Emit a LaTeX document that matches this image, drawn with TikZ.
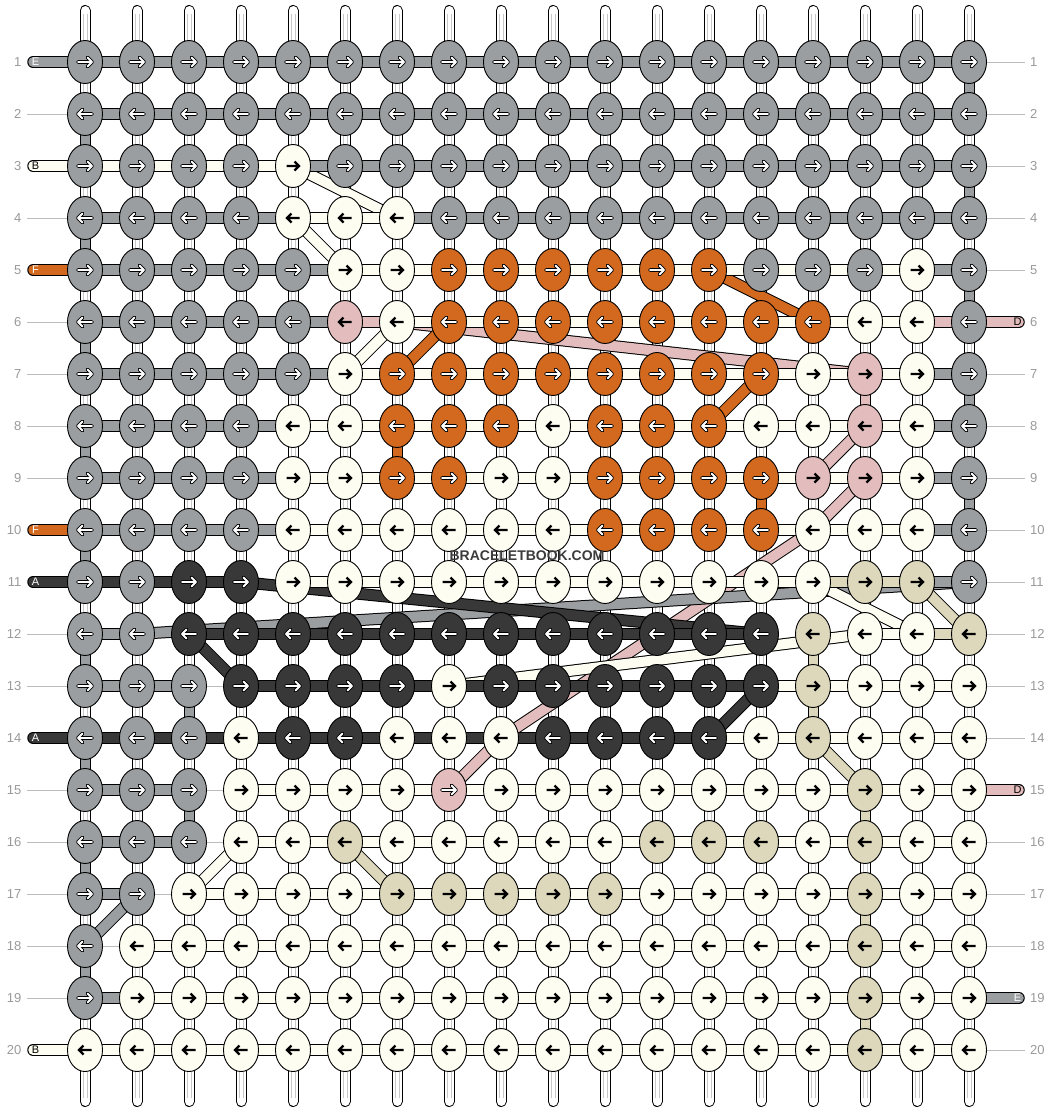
\documentclass[tikz,border=0pt]{standalone}
\usepackage{fontspec}
\setmainfont{Liberation Sans}
\usetikzlibrary{shapes.geometric,calc}
\definecolor{cg}{HTML}{9A9EA0}
\definecolor{cw}{HTML}{FDFDF2}
\definecolor{co}{HTML}{D2691E}
\definecolor{cp}{HTML}{E3BDBD}
\definecolor{cq}{HTML}{E3BDBD}
\definecolor{cd}{HTML}{383838}
\definecolor{cb}{HTML}{DDD8BC}
\definecolor{numgray}{HTML}{9A9A9A}
\definecolor{linegray}{HTML}{BBBBBB}
\definecolor{innergray}{HTML}{C8C8C8}
\definecolor{wmgray}{HTML}{3C3C3C}
\newcommand\myband[3]{%
  \draw[line width=12pt,black] (#2) -- (#3);
  \draw[line width=10pt,draw=#1] (#2) -- (#3);}
\begin{document}
\begin{tikzpicture}[x=1pt,y=-1pt,
  knot/.style={ellipse,draw=black,line width=0.9pt,minimum width=35pt,minimum height=43pt,inner sep=0pt},
  labline/.style={draw=linegray,line width=1pt},
  numlab/.style={text=numgray,font=\fontsize{13}{13}\selectfont,inner sep=0pt},
  leadlab/.style={font=\fontsize{11}{11}\selectfont,inner sep=0pt},
  barr/.style={line width=2.3pt,black,line join=miter},
  warrback/.style={line width=3.8pt,black,line cap=round,line join=round},
  warrfront/.style={line width=1.8pt,white,line cap=round,line join=round}]
\fill[white] (0,0) rectangle (1052,1112);
\useasboundingbox (0,0) rectangle (1052,1112);
% knot centres
\foreach \ri in {1,...,20}{\foreach \ci in {1,...,18}{
  \coordinate (p-\ri-\ci) at ({85+52*(\ci-1)},{62+52*(\ri-1)});}}
% row label lines
\foreach \ri in {2,4,6,7,8,9,12,13,15,16,17,18,19}{
  \coordinate (ll-\ri) at (27,{62+52*(\ri-1)});
  \draw[labline] (ll-\ri) -- (p-\ri-1);}
\foreach \ri in {1,2,3,4,5,7,8,9,10,11,12,13,14,16,17,18,20}{
  \coordinate (lr-\ri) at (1025,{62+52*(\ri-1)});
  \draw[labline] (p-\ri-18) -- (lr-\ri);}
% vertical strands
\foreach \ci in {1,...,18}{
  \coordinate (vt-\ci) at ({85+52*(\ci-1)},10.5);
  \coordinate (vb-\ci) at ({85+52*(\ci-1)},1101.5);
  \coordinate (vti-\ci) at ({85+52*(\ci-1)},14);
  \coordinate (vbi-\ci) at ({85+52*(\ci-1)},1098);
  \draw[line width=11pt,line cap=round,black] (vt-\ci) -- (vb-\ci);
  \draw[line width=9pt,line cap=round,white] (vt-\ci) -- (vb-\ci);
  \draw[line width=5pt,innergray] (vti-\ci) -- (vbi-\ci);
  \draw[line width=3pt,white] (vti-\ci) -- (vbi-\ci);}
% coloured vertical pieces
\foreach \ci/\ri/\kk in {1/2/g,1/4/g,1/6/g,1/8/g,1/10/g,1/12/g,1/14/g,1/16/g,1/18/g,
  18/1/g,18/3/g,18/5/g,18/7/g,18/9/g,3/13/g,3/15/g,7/8/o,14/9/o,16/7/p,
  15/12/b,15/13/b,16/15/b,16/17/b,16/19/b}{
  \pgfmathtruncatemacro\rn{\ri+1}
  \draw[line width=11pt,black] (p-\ri-\ci) -- (p-\rn-\ci);
  \draw[line width=9pt,draw=c\kk] (p-\ri-\ci) -- (p-\rn-\ci);}
% diagonal bands
\myband{cp}{p-10-15}{p-14-9}
\myband{cw}{p-13-8}{p-12-16}
\myband{cg}{p-12-2}{p-11-18}
\myband{cd}{p-11-4}{p-12-14}
\myband{cw}{p-3-5}{p-4-7}
\myband{cw}{p-4-5}{p-5-6}
\myband{co}{p-5-13}{p-6-15}
\myband{cp}{p-6-7}{p-7-16}
\myband{cw}{p-6-7}{p-7-6}
\myband{co}{p-6-8}{p-7-7}
\myband{co}{p-8-13}{p-7-14}
\myband{cp}{p-8-16}{p-9-15}
\myband{cp}{p-9-16}{p-10-15}
\myband{cp}{p-14-9}{p-15-8}
\myband{cw}{p-11-15}{p-12-17}
\myband{cb}{p-11-17}{p-12-18}
\myband{cd}{p-12-3}{p-13-4}
\myband{cd}{p-14-13}{p-13-14}
\myband{cb}{p-14-15}{p-15-16}
\myband{cb}{p-16-6}{p-17-7}
\myband{cw}{p-16-4}{p-17-3}
\myband{cg}{p-17-2}{p-18-1}
% horizontal pieces
\foreach \hl [count=\ri] in {
 {g,g,g,g,g,g,g,g,g,g,g,g,g,g,g,g,g},
 {g,g,g,g,g,g,g,g,g,g,g,g,g,g,g,g,g},
 {w,w,w,w,g,g,g,g,g,g,g,g,g,g,g,g,g},
 {g,g,g,g,w,w,g,g,g,g,g,g,g,g,g,g,g},
 {g,g,g,g,g,w,w,w,w,w,w,w,w,w,w,w,g},
 {g,g,g,g,g,p,w,w,w,w,w,w,w,w,w,w,p},
 {g,g,g,g,g,w,w,w,w,w,w,w,w,w,w,w,g},
 {g,g,g,g,w,w,w,w,w,w,w,w,w,w,w,w,g},
 {g,g,g,g,w,w,w,w,w,w,w,w,w,w,w,w,g},
 {g,g,g,g,w,w,w,w,w,w,w,w,w,w,w,w,g},
 {d,d,d,n,w,w,w,w,w,w,w,w,w,w,b,b,g},
 {g,n,d,d,d,d,d,d,d,d,d,d,d,n,n,w,b},
 {g,g,x,d,d,d,d,d,d,d,d,d,d,w,w,w,w},
 {d,d,d,d,d,d,d,d,d,d,d,d,w,w,w,w,w},
 {g,g,x,w,w,w,w,w,w,w,w,w,w,w,w,w,w},
 {g,g,x,w,w,w,w,w,w,w,w,w,w,w,w,w,w},
 {g,x,w,w,w,w,w,w,w,w,w,w,w,w,w,w,w},
 {x,w,w,w,w,w,w,w,w,w,w,w,w,w,w,w,w},
 {g,w,w,w,w,w,w,w,w,w,w,w,w,w,w,w,w},
 {w,w,w,w,w,w,w,w,w,w,w,w,w,w,w,w,w}}{
  \foreach \sg [count=\ci] in \hl {
    \pgfmathtruncatemacro\cn{\ci+1}
    \if\sg n\else
      \if\sg x
        \draw[labline] (p-\ri-\ci) -- (p-\ri-\cn);
      \else
        \draw[line width=11.5pt,black] (p-\ri-\ci) -- (p-\ri-\cn);
        \draw[line width=9.5pt,draw=c\sg] (p-\ri-\ci) -- (p-\ri-\cn);
      \fi
    \fi}}
% lead strands
\foreach \ri/\kk/\letr/\lcol in {1/g/E/white,3/w/B/black,5/o/F/white,10/o/F/white,11/d/A/white,14/d/A/white,20/w/B/black}{
  \coordinate (la-\ri) at (33,{62+52*(\ri-1)});
  \draw[line width=11.5pt,line cap=round,black] (la-\ri) -- (p-\ri-1);
  \draw[line width=9.5pt,line cap=round,draw=c\kk] (la-\ri) -- (p-\ri-1);
  \node[leadlab,text=\lcol] (lt-\ri) at (35.5,{62+52*(\ri-1)}) {\letr};}
\foreach \ri/\kk/\letr/\lcol in {6/p/D/black,15/p/D/black,19/g/E/white}{
  \coordinate (lb-\ri) at (1019,{62+52*(\ri-1)});
  \draw[line width=11.5pt,line cap=round,black] (p-\ri-18) -- (lb-\ri);
  \draw[line width=9.5pt,line cap=round,draw=c\kk] (p-\ri-18) -- (lb-\ri);
  \node[leadlab,text=\lcol] (rt-\ri) at (1017.5,{62+52*(\ri-1)}) {\letr};}
% knots
\foreach \rowlist [count=\ri] in {
 {g,g,g,g,g,g,g,g,g,g,g,g,g,g,g,g,g,g},
 {g,g,g,g,g,g,g,g,g,g,g,g,g,g,g,g,g,g},
 {g,g,g,g,w,g,g,g,g,g,g,g,g,g,g,g,g,g},
 {g,g,g,g,w,w,w,g,g,g,g,g,g,g,g,g,g,g},
 {g,g,g,g,g,w,w,o,o,o,o,o,o,g,g,g,w,g},
 {g,g,g,g,g,p,w,o,o,o,o,o,o,o,o,w,w,g},
 {g,g,g,g,g,w,o,o,o,o,o,o,o,o,w,p,w,g},
 {g,g,g,g,w,w,o,o,o,w,o,o,o,w,w,p,w,g},
 {g,g,g,g,w,w,o,o,w,w,o,o,o,o,p,p,w,g},
 {g,g,g,g,w,w,w,w,w,w,o,o,o,o,w,w,w,g},
 {g,g,d,d,w,w,w,w,w,w,w,w,w,w,w,b,b,g},
 {g,g,d,d,d,d,d,d,d,d,d,d,d,d,b,w,w,b},
 {g,g,g,d,d,d,d,w,d,d,d,d,d,d,b,w,w,w},
 {g,g,g,w,d,d,w,w,w,d,d,d,d,w,b,w,w,w},
 {g,g,g,w,w,w,w,q,w,w,w,w,w,w,w,b,w,w},
 {g,g,g,w,w,b,w,w,w,w,w,b,b,b,w,b,w,w},
 {g,g,w,w,w,w,b,b,b,b,b,w,w,w,w,b,w,w},
 {g,w,w,w,w,w,w,w,w,w,w,w,w,w,w,b,w,w},
 {g,w,w,w,w,w,w,w,w,w,w,w,w,w,w,b,w,w},
 {w,w,w,w,w,w,w,w,w,w,w,w,w,w,w,b,w,w}}{
  \pgfmathsetmacro\dir{isodd(\ri) ? 1 : -1}
  \foreach \col [count=\ci] in \rowlist {
    \node[knot,fill=c\col] (k-\ri-\ci) at (p-\ri-\ci) {};
    \def\lightk{0}%
    \if\col w\def\lightk{1}\fi
    \if\col b\def\lightk{1}\fi
    \if\col p\def\lightk{1}\fi
    \ifnum\lightk=1
      \draw[barr,shift={(k-\ri-\ci.center)},xscale=\dir] (-6.5,0) -- (6,0) (1.5,-4.5) -- (6,0) -- (1.5,4.5);
    \else
      \draw[warrback,shift={(k-\ri-\ci.center)},xscale=\dir] (-7,0) -- (7,0) (2.5,-4.5) -- (7,0) -- (2.5,4.5);
      \draw[warrfront,shift={(k-\ri-\ci.center)},xscale=\dir] (-7,0) -- (7,0) (2.5,-4.5) -- (7,0) -- (2.5,4.5);
    \fi}}
% row numbers
\foreach \ri in {1,...,20}{
  \node[numlab,anchor=east] (nl-\ri) at (21.5,{62+52*(\ri-1)}) {\ri};
  \node[numlab,anchor=west] (nr-\ri) at (1030,{62+52*(\ri-1)}) {\ri};}
% watermark
\node[text=wmgray,font=\bfseries\fontsize{14}{14}\selectfont,inner sep=0pt] (wm) at (527,556) {BRACELETBOOK.COM};
\end{tikzpicture}
\end{document}
